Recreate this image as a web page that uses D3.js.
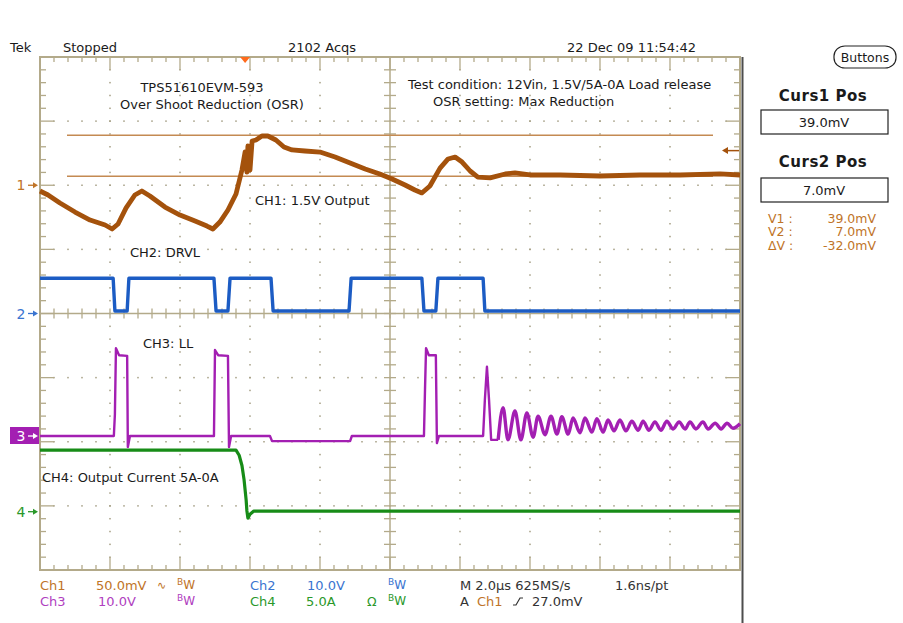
<!DOCTYPE html>
<html>
<head>
<meta charset="utf-8">
<script src="https://cdn.jsdelivr.net/npm/d3@7"></script>
<style>
  html, body { margin: 0; padding: 0; background: #ffffff; }
  svg { display: block; }
  text { font-family: "DejaVu Sans", "Liberation Sans", Arial, sans-serif; }
</style>
</head>
<body>
<svg id="chart" width="903" height="623"></svg>
<script>
// ---------------- DATA ----------------
// Time base: 2.0 us/div, 10 divisions, time measured from left edge of graticule (us)
const timeDomain = [0, 20];

// CH1: 1.5V Output (AC coupled, mV), 50.0 mV/div
const ch1Time = [0.00,0.23,0.57,1.00,1.43,1.86,2.06,2.23,2.46,2.71,2.91,3.14,3.57,4.00,4.43,4.77,4.94,5.14,5.37,5.60,5.77,5.86,5.91,5.94,6.00,6.06,6.17,6.34,6.51,6.74,6.97,7.20,7.57,8.00,8.43,8.86,9.29,9.71,10.06,10.43,10.71,10.91,11.14,11.43,11.66,11.86,12.06,12.29,12.51,12.86,13.29,13.57,14.00,14.86,16.00,17.14,18.29,19.43,20.00];
const ch1mV   = [-4.5,-7.6,-13.8,-20.9,-27.1,-31.0,-34.1,-30.2,-17.7,-7.6,-4.5,-8.4,-17.0,-23.2,-27.9,-31.8,-34.1,-28.7,-19.3,-6.8,11.9,25.9,10.3,30.6,11.9,34.5,35.3,38.4,38.4,35.3,29.8,27.5,26.7,25.9,22.0,17.3,12.7,8.8,4.9,0.2,-3.7,-6.0,-0.6,13.4,20.5,22.0,18.1,11.1,6.4,5.7,8.8,9.6,8.0,8.0,7.2,8.0,8.0,8.8,8.0];

// CH2: DRVL (V), 10.0 V/div
const ch2Time = [0,2.09,2.14,2.49,2.54,4.97,5.03,5.37,5.43,6.60,6.66,8.83,8.89,10.91,10.97,11.31,11.37,12.66,12.71,20];
const ch2Volt = [5.5,5.5,0.4,0.4,5.5,5.5,0.4,0.4,5.5,5.5,0.4,0.4,5.5,5.5,0.4,0.4,5.5,5.5,0.4,0.4];

// CH3: LL switch node (V), 10.0 V/div — switching pulses
const ch3Time = [0,2.11,2.14,2.17,2.26,2.49,2.51,2.57,4.97,5.00,5.09,5.37,5.40,5.46,6.57,6.63,8.86,8.91,10.97,11.00,11.03,11.11,11.31,11.34,11.40,12.66,12.71,12.77,12.83,12.89,13.09];
const ch3Volt = [0,0,3.4,13.7,12.6,12.5,-1.7,0,0,13.4,12.6,12.5,-1.7,0,0,-0.8,-0.8,0,0,7.2,13.7,12.6,12.6,-1.1,0,0,5.6,10.8,5.6,-0.6,-0.6];
// CH3: ringing after load release (peaks / troughs)
const ch3RingTime = [13.09,13.23,13.37,13.57,13.74,13.91,14.09,14.23,14.43,14.60,14.77,14.91,15.09,15.23,15.43,15.57,15.77,15.91,16.09,16.23,16.40,16.57,16.74,16.91,17.09,17.23,17.40,17.57,17.74,17.91,18.09,18.26,18.43,18.57,18.74,18.94,19.09,19.29,19.46,19.63,19.80,20.00];
const ch3RingVolt = [-0.6,4.4,-0.6,3.9,-0.6,3.6,-0.2,3.1,0.2,3.1,0.3,3.0,0.3,2.8,0.5,2.8,0.6,2.7,0.6,2.5,0.8,2.5,0.8,2.3,0.9,2.3,0.9,2.2,0.9,2.3,1.1,2.2,1.1,2.2,1.1,2.2,1.1,2.0,1.1,2.0,1.2,1.9];

// CH4: Output current (A), 5.0 A/div
const ch4Time = [0,5.60,5.69,5.77,5.83,5.89,5.91,5.94,6.00,6.11,20];
const ch4Amp  = [4.8,4.8,4.4,3.6,2.5,0.9,0.1,-0.5,-0.2,0.05,0.05];

// Cursors (Ch1 mV) and trigger
const cursorValues = [39.0, 7.0];
const triggerLevel = 27.0;   // mV on Ch1
const triggerTime = 5.86;    // us

// Text content
const headerTexts = ["Tek", "Stopped", "2102 Acqs", "22 Dec 09 11:54:42"];
const titleLines = ["TPS51610EVM-593", "Over Shoot Reduction (OSR)"];
const conditionLines = ["Test condition: 12Vin, 1.5V/5A-0A Load release", "OSR setting: Max Reduction"];
const channelNotes = ["CH1: 1.5V Output", "CH2: DRVL", "CH3: LL", "CH4: Output Current 5A-0A"];
const channelScales = ["50.0mV", "10.0V", "10.0V", "5.0A"];
const cursorReadLabels = ["V1 :", "V2 :", "ΔV :"];
const cursorReadValues = ["39.0mV", "7.0mV", "-32.0mV"];
const timebaseText = ["M 2.0µs 625MS/s", "1.6ns/pt"];
const triggerText = "27.0mV";

// ---------------- LAYOUT ----------------
const svg = d3.select("#chart");
const gx0 = 40, gx1 = 740, gy0 = 57, gy1 = 570;
const nDivX = 10, nDivY = 8;
const divX = (gx1 - gx0) / nDivX, divY = (gy1 - gy0) / nDivY;
const gridCol = "#b3aa8a", dotCol = "#a59e84";
const col = { ch1: "#a4520c", ch1t: "#c07428", cur: "#c48a52", ch2: "#1c5cc4", ch2t: "#3a74d0", ch3: "#a31fb2", ch3t: "#b040c0", ch4: "#178c17", ch4t: "#2a982a" };

const x = d3.scaleLinear().domain(timeDomain).range([gx0, gx1]);
function chScale(groundY, perDiv) {
  return d3.scaleLinear().domain([0, perDiv]).range([groundY, groundY - divY]);
}
const y1 = chScale(gy0 + 2 * divY, 50);
const y2 = chScale(gy0 + 4 * divY, 10);
const y3 = chScale(436, 10);
const y4 = chScale(511.7, 5);

// ---------------- GRATICULE ----------------
const g = svg.append("g");
for (let k = 1; k < nDivX; k++) {
  if (k === nDivX / 2) continue;
  const xx = gx0 + k * divX;
  for (let j = 1; j < nDivY * 5; j++) {
    g.append("rect").attr("x", xx - 0.75).attr("y", gy0 + j * divY / 5 - 0.75).attr("width", 1.5).attr("height", 1.5).attr("fill", dotCol);
  }
}
for (let k = 1; k < nDivY; k++) {
  if (k === nDivY / 2) continue;
  const yy = gy0 + k * divY;
  for (let i = 1; i < nDivX * 5; i++) {
    g.append("rect").attr("x", gx0 + i * divX / 5 - 0.75).attr("y", yy - 0.75).attr("width", 1.5).attr("height", 1.5).attr("fill", dotCol);
  }
}
for (let i = 1; i < nDivX * 5; i++) {
  const xx = gx0 + i * divX / 5, L = (i % 5 === 0) ? 13 : 5;
  g.append("line").attr("x1", xx).attr("x2", xx).attr("y1", gy0).attr("y2", gy0 + L).attr("stroke", gridCol).attr("stroke-width", 1.3);
  g.append("line").attr("x1", xx).attr("x2", xx).attr("y1", gy1).attr("y2", gy1 - L).attr("stroke", gridCol).attr("stroke-width", 1.3);
  g.append("line").attr("x1", xx).attr("x2", xx).attr("y1", gy0 + 4 * divY - 5).attr("y2", gy0 + 4 * divY + 5).attr("stroke", gridCol).attr("stroke-width", 1.3);
}
for (let j = 1; j < nDivY * 5; j++) {
  const yy = gy0 + j * divY / 5, L = (j % 5 === 0) ? 14 : 6;
  g.append("line").attr("y1", yy).attr("y2", yy).attr("x1", gx0).attr("x2", gx0 + L).attr("stroke", gridCol).attr("stroke-width", 1.3);
  g.append("line").attr("y1", yy).attr("y2", yy).attr("x1", gx1).attr("x2", gx1 - L).attr("stroke", gridCol).attr("stroke-width", 1.3);
  g.append("line").attr("y1", yy).attr("y2", yy).attr("x1", gx0 + 5 * divX - 6).attr("x2", gx0 + 5 * divX + 6).attr("stroke", gridCol).attr("stroke-width", 1.3);
}
g.append("line").attr("x1", gx0).attr("x2", gx1).attr("y1", gy0 + 4 * divY).attr("y2", gy0 + 4 * divY).attr("stroke", gridCol).attr("stroke-width", 1.5);
g.append("line").attr("x1", gx0 + 5 * divX).attr("x2", gx0 + 5 * divX).attr("y1", gy0).attr("y2", gy1).attr("stroke", gridCol).attr("stroke-width", 1.5);
g.append("rect").attr("x", gx0).attr("y", gy0).attr("width", gx1 - gx0).attr("height", gy1 - gy0).attr("fill", "none").attr("stroke", gridCol).attr("stroke-width", 2);
svg.append("line").attr("x1", 742.5).attr("x2", 742.5).attr("y1", gy0).attr("y2", 623).attr("stroke", "#4d4d4d").attr("stroke-width", 2);

// ---------------- ANNOTATIONS ----------------
function txt(s, xx, yy, opts = {}) {
  const t = svg.append("text").attr("x", xx).attr("y", yy).attr("dominant-baseline", "central")
    .attr("font-size", opts.size || 13).attr("fill", opts.fill || "#1a1a1a")
    .attr("text-anchor", opts.anchor || "start");
  if (opts.weight) t.attr("font-weight", opts.weight);
  if (opts.ls) t.attr("letter-spacing", opts.ls);
  t.text(s);
  return t;
}
txt(titleLines[0], 202, 87, { anchor: "middle" });
txt(titleLines[1], 212, 104, { anchor: "middle" });
txt(conditionLines[0], 408, 84);
txt(conditionLines[1], 433, 101);
txt(channelNotes[0], 255, 200);
txt(channelNotes[1], 130, 252);
txt(channelNotes[2], 143, 343);
txt(channelNotes[3], 42, 477);

const curG = svg.append("g");
cursorValues.forEach(v => {
  curG.append("line").attr("x1", 67).attr("x2", 713).attr("y1", y1(v)).attr("y2", y1(v)).attr("stroke", col.cur).attr("stroke-width", 1.3);
});

// ---------------- TRACES ----------------
function trace(times, vals, ys, color, w, curve) {
  const line = d3.line().x(d => x(d[0])).y(d => ys(d[1])).curve(curve || d3.curveLinear);
  svg.append("path").datum(times.map((t, i) => [t, vals[i]]))
    .attr("d", line).attr("fill", "none").attr("stroke", color).attr("stroke-width", w)
    .attr("stroke-linejoin", "round");
}
trace(ch4Time, ch4Amp, y4, col.ch4, 3.2);
trace(ch3Time, ch3Volt, y3, col.ch3, 2.4);
trace(ch3RingTime, ch3RingVolt, y3, col.ch3, 3.4, d3.curveMonotoneX);
trace(ch2Time, ch2Volt, y2, col.ch2, 3.4);
trace(ch1Time, ch1mV, y1, col.ch1, 4.8);

// ---------------- MARKERS ----------------
function arrowRight(yy, color) {
  svg.append("line").attr("x1", 28).attr("x2", 34).attr("y1", yy).attr("y2", yy).attr("stroke", color).attr("stroke-width", 1.3);
  svg.append("path").attr("d", `M33,${yy - 3} L38,${yy} L33,${yy + 3} Z`).attr("fill", color);
}
txt("1", 21, y1(0), { size: 14, fill: col.ch1t, anchor: "middle" }); arrowRight(y1(0), col.ch1t);
txt("2", 21, y2(0), { size: 14, fill: col.ch2t, anchor: "middle" }); arrowRight(y2(0), col.ch2t);
svg.append("rect").attr("x", 10).attr("y", y3(0) - 9).attr("width", 29).attr("height", 17).attr("fill", col.ch3);
txt("3", 21, y3(0), { size: 14, fill: "#ffffff", anchor: "middle" }); arrowRight(y3(0), "#ffffff");
txt("4", 21, y4(0), { size: 14, fill: col.ch4t, anchor: "middle" }); arrowRight(y4(0), col.ch4t);

svg.append("path").attr("d", `M${x(triggerTime) - 5},${gy0} L${x(triggerTime) + 5},${gy0} L${x(triggerTime)},${gy0 + 6} Z`).attr("fill", "#ff6a1c");
const ty = y1(triggerLevel);
svg.append("line").attr("x1", 726).attr("x2", 739).attr("y1", ty).attr("y2", ty).attr("stroke", col.ch1).attr("stroke-width", 1.5);
svg.append("path").attr("d", `M722,${ty} L728,${ty - 3.5} L728,${ty + 3.5} Z`).attr("fill", col.ch1);

// ---------------- HEADER ----------------
txt(headerTexts[0], 10, 47);
txt(headerTexts[1], 63, 47);
txt(headerTexts[2], 288, 47);
txt(headerTexts[3], 567, 47);

// ---------------- RIGHT PANEL ----------------
svg.append("rect").attr("x", 834).attr("y", 46).attr("width", 62).attr("height", 22).attr("rx", 11).attr("ry", 10)
  .attr("fill", "#fff").attr("stroke", "#222").attr("stroke-width", 1.2);
txt("Buttons", 865, 57, { anchor: "middle", size: 12.5 });
txt("Curs1 Pos", 823, 96, { anchor: "middle", size: 15, weight: "bold", ls: 0.5 });
txt("Curs2 Pos", 823, 162, { anchor: "middle", size: 15, weight: "bold", ls: 0.5 });
svg.append("rect").attr("x", 761).attr("y", 110).attr("width", 127).attr("height", 24).attr("fill", "#fff").attr("stroke", "#222").attr("stroke-width", 1.2);
svg.append("rect").attr("x", 761).attr("y", 178).attr("width", 127).attr("height", 24).attr("fill", "#fff").attr("stroke", "#222").attr("stroke-width", 1.2);
txt(cursorValues[0].toFixed(1) + "mV", 824, 122, { anchor: "middle" });
txt(cursorValues[1].toFixed(1) + "mV", 824, 190, { anchor: "middle" });
cursorReadLabels.forEach((s, i) => {
  txt(s, 768, 218 + i * 13.5, { fill: col.ch1t, size: 12.5 });
  txt(cursorReadValues[i], 876, 218 + i * 13.5, { fill: col.ch1t, size: 12.5, anchor: "end" });
});

// ---------------- STATUS BAR ----------------
function bw(xx, yy, color) {
  const t = svg.append("text").attr("x", xx).attr("y", yy).attr("dominant-baseline", "central").attr("fill", color);
  t.append("tspan").attr("font-size", 9).attr("dy", -3).text("B");
  t.append("tspan").attr("font-size", 12).attr("dy", 3).text("W");
}
const r1 = 585, r2 = 601;
txt("Ch1", 40, r1, { fill: col.ch1t });
txt(channelScales[0], 96, r1, { fill: col.ch1t });
txt("∿", 157, r1, { fill: col.ch1t, size: 11 });
bw(177, r1, col.ch1t);
txt("Ch2", 250, r1, { fill: col.ch2t });
txt(channelScales[1], 307, r1, { fill: col.ch2t });
bw(388, r1, col.ch2t);
txt("Ch3", 40, r2, { fill: col.ch3t });
txt(channelScales[2], 98, r2, { fill: col.ch3t });
bw(177, r2, col.ch3t);
txt("Ch4", 250, r2, { fill: col.ch4t });
txt(channelScales[3], 306, r2, { fill: col.ch4t });
txt("Ω", 367, r2, { fill: col.ch4t, size: 12.5 });
bw(388, r2, col.ch4t);
txt(timebaseText[0], 460, r1, { fill: "#333" });
txt(timebaseText[1], 615, r1, { fill: "#333" });
txt("A", 460, r2, { fill: "#333" });
txt("Ch1", 477, r2, { fill: col.ch1t });
svg.append("path").attr("d", `M513,${r2 + 4} L516,${r2 + 4} L520,${r2 - 3} L523,${r2 - 3}`).attr("fill", "none").attr("stroke", "#333").attr("stroke-width", 1.2);
txt(triggerText, 532, r2, { fill: "#333" });
</script>
</body>
</html>
